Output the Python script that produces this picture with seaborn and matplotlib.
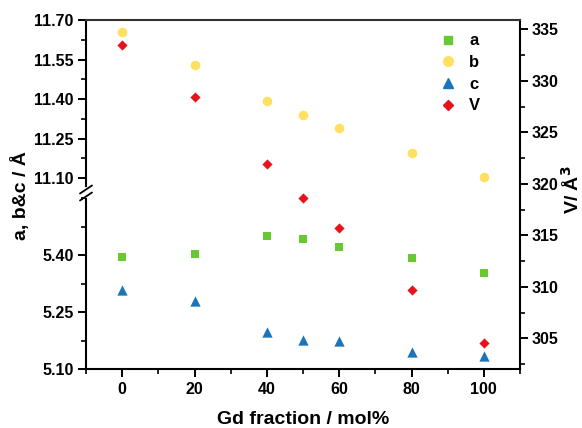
import matplotlib
matplotlib.use("Agg")
import matplotlib.pyplot as plt
import seaborn as sns
from matplotlib.ticker import MultipleLocator, FixedLocator
from matplotlib.lines import Line2D

# Lattice parameters vs Gd fraction
gd = [0, 20, 40, 50, 60, 80, 100]
a_vals = [5.396, 5.404, 5.450, 5.442, 5.420, 5.392, 5.353]
b_vals = [11.656, 11.529, 11.393, 11.340, 11.291, 11.195, 11.106]
c_vals = [5.309, 5.280, 5.198, 5.178, 5.175, 5.146, 5.135]
v_vals = [333.48, 328.43, 321.96, 318.60, 315.75, 309.66, 304.54]

x_ticks = [0, 20, 40, 60, 80, 100]
top_ticks = [11.10, 11.25, 11.40, 11.55, 11.70]
bot_ticks = [5.10, 5.25, 5.40]
v_ticks = [305, 310, 315, 320, 325, 330, 335]

col_a = "#66C832"
col_b = "#FFE060"
col_c = "#1B75BB"
col_v = "#E8121A"

sns.set_theme(style="ticks")
plt.rcParams["font.family"] = ["Liberation Sans", "DejaVu Sans"]
plt.rcParams["font.weight"] = "bold"
plt.rcParams["axes.linewidth"] = 1.5
plt.rcParams["axes.edgecolor"] = "black"
plt.rcParams["text.color"] = "black"
plt.rcParams["axes.labelcolor"] = "black"
plt.rcParams["xtick.color"] = "black"
plt.rcParams["ytick.color"] = "black"

fig = plt.figure(figsize=(5.82, 4.28), dpi=100)

L, W = 0.1478, 0.7457
B, T, BR = 0.1371, 0.9533, 0.5491

ax_bot = fig.add_axes([L, B, W, BR - B])
ax_top = fig.add_axes([L, BR, W, T - BR], sharex=ax_bot)
ax_v = fig.add_axes([L, B, W, T - B], sharex=ax_bot)
ax_v.patch.set_alpha(0)

# scatter series
sns.scatterplot(x=gd, y=a_vals, ax=ax_bot, marker="s", color=col_a, s=34, linewidth=0)
sns.scatterplot(x=gd, y=c_vals, ax=ax_bot, marker="^", color=col_c, s=55, linewidth=0)
sns.scatterplot(x=gd, y=b_vals, ax=ax_top, marker="o", color=col_b, s=48, linewidth=0)
sns.scatterplot(x=gd, y=v_vals, ax=ax_v, marker="D", color=col_v, s=27, linewidth=0)

ax_bot.set_xlim(-10, 110)
ax_bot.set_ylim(5.10, 5.563)
ax_top.set_ylim(11.044, 11.70)
ax_v.set_ylim(302.0, 335.9)

tick_kw = dict(direction="out", width=1.4, labelsize=11.5, color="black", labelcolor="black")

# bottom axis (lower part of left scale + x axis)
ax_bot.xaxis.set_major_locator(FixedLocator(x_ticks))
ax_bot.xaxis.set_minor_locator(MultipleLocator(10))
ax_bot.yaxis.set_major_locator(FixedLocator(bot_ticks))
ax_bot.yaxis.set_minor_locator(MultipleLocator(0.075))
ax_bot.yaxis.set_major_formatter(lambda v, p: f"{v:.2f}")
ax_bot.tick_params(which="major", length=5.5, **tick_kw)
ax_bot.tick_params(which="minor", length=3.5, direction="out", width=1.2, color="black")
ax_bot.tick_params(axis="y", which="both", right=False)
ax_bot.spines["top"].set_visible(False)
ax_bot.spines["right"].set_visible(False)

# top axis (upper part of left scale)
ax_top.yaxis.set_major_locator(FixedLocator(top_ticks))
ax_top.yaxis.set_minor_locator(MultipleLocator(0.075))
ax_top.yaxis.set_major_formatter(lambda v, p: f"{v:.2f}")
ax_top.tick_params(which="major", length=5.5, **tick_kw)
ax_top.tick_params(which="minor", length=3.5, direction="out", width=1.2, color="black")
ax_top.tick_params(axis="x", which="both", bottom=False, labelbottom=False)
for s in ["top", "right", "bottom"]:
    ax_top.spines[s].set_visible(False)
ax_top.patch.set_alpha(0)

# right axis for volume
ax_v.yaxis.tick_right()
ax_v.yaxis.set_major_locator(FixedLocator(v_ticks))
ax_v.yaxis.set_minor_locator(MultipleLocator(2.5))
ax_v.tick_params(which="major", length=5.5, pad=3, **tick_kw)
ax_v.tick_params(which="minor", length=3.5, direction="out", width=1.2, color="black")
ax_v.tick_params(axis="x", which="both", bottom=False, labelbottom=False)
ax_v.spines["left"].set_visible(False)
ax_v.spines["bottom"].set_visible(False)
ax_v.spines["top"].set_color("#333333")

for ax in (ax_bot, ax_top, ax_v):
    ax.set_xlabel("")
    ax.set_ylabel("")
    for lab in ax.get_xticklabels() + ax.get_yticklabels():
        lab.set_fontweight("bold")

ax_bot.set_xlabel("Gd fraction / mol%", fontsize=14, fontweight="bold", labelpad=10)

fig.text(0.036, 1 - 196 / 428, "a, b&c / Å", rotation=90, ha="center", va="center",
         fontsize=14, fontweight="bold")
fig.text(0.983, 1 - 190 / 428, "V/ Å$^3$", rotation=90, ha="center", va="center",
         fontsize=14, fontweight="bold")

# axis break marks on left spine
bx = L
by = BR
dx, dy = 6 / 582, 4 / 428
gap = 3.5 / 428
fig.add_artist(Line2D([bx, bx], [by - gap, by + gap], transform=fig.transFigure,
                      color="white", lw=3, zorder=5))
for off in (-gap, gap):
    fig.add_artist(Line2D([bx - dx, bx + dx], [by + off - dy, by + off + dy],
                          transform=fig.transFigure, color="black", lw=1.3, zorder=6))

handles = [
    Line2D([], [], ls="none", marker="s", color=col_a, markersize=6),
    Line2D([], [], ls="none", marker="o", color=col_b, markersize=7),
    Line2D([], [], ls="none", marker="^", color=col_c, markersize=7.5),
    Line2D([], [], ls="none", marker="D", color=col_v, markersize=5.2),
]
leg = ax_v.legend(handles, ["a", "b", "c", "V"], loc="upper left",
                  bbox_to_anchor=(0.726, 0.957), bbox_transform=fig.transFigure,
                  frameon=False, fontsize=12, labelspacing=0.4, handletextpad=0.7,
                  handlelength=1.2)
for t in leg.get_texts():
    t.set_fontweight("bold")

fig.savefig("out.png", dpi=100)
